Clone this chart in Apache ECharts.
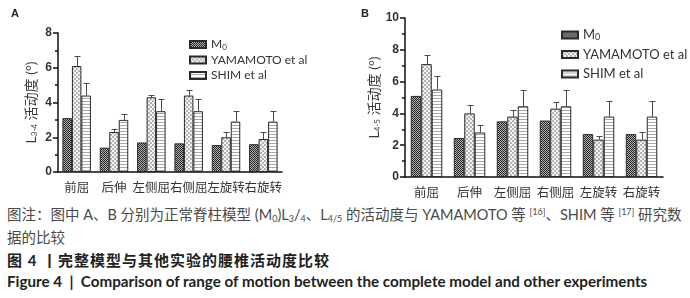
<!DOCTYPE html>
<html>
<head>
<meta charset="utf-8">
<script src="https://cdn.jsdelivr.net/npm/echarts/dist/echarts.min.js"></script>
<style>
  html, body { margin: 0; padding: 0; background: #fff; }
  #wrap { position: relative; width: 690px; height: 298px; overflow: hidden; }
  #chart { position: absolute; left: 0; top: 0; width: 690px; height: 200px; }
  .cap { position: absolute; left: 7px; white-space: nowrap; line-height: 18px; font-family: Lato, "Noto Sans CJK SC", sans-serif; }
  .note { color: #4a4a4a; font-size: 14.5px; }
  .title { color: #222; font-weight: bold; }
  sub, sup { font-size: 9px; line-height: 0; }
  sub { vertical-align: -2px; }
  sup { vertical-align: 5px; }
</style>
</head>
<body>
<div id="wrap">
  <div id="chart"></div>
  <div class="cap note" style="top:206px">图注：图中 A、B 分别为正常脊柱模型 (M<sub>0</sub>)L<sub>3</sub>/<sub>4</sub>、L<sub>4/5</sub> 的活动度与 YAMAMOTO 等 <sup>[16]</sup>、SHIM 等 <sup>[17]</sup> 研究数</div>
  <div class="cap note" style="top:229px">据的比较</div>
  <div class="cap title" style="top:251px; font-size:15px; letter-spacing:1px">图 4 丨完整模型与其他实验的腰椎活动度比较</div>
  <div class="cap title" style="top:272px; font-size:15.2px">Figure 4 &nbsp;|&nbsp; Comparison of range of motion between the complete model and other experiments</div>
</div>
<script>
var categories = ['前屈', '后伸', '左侧屈', '右侧屈', '左旋转', '右旋转'];
var seriesNames = ['M0', 'YAMAMOTO et al', 'SHIM et al'];

// A: L3-4
var a_m0 = [3.1, 1.4, 1.7, 1.65, 1.55, 1.6];
var a_yama = [6.1, 2.3, 4.3, 4.4, 2.0, 1.9];
var a_yamaErr = [0.6, 0.2, 0.15, 0.3, 0.3, 0.4];
var a_shim = [4.4, 3.0, 3.5, 3.5, 2.9, 2.9];
var a_shimErr = [0.75, 0.35, 0.7, 0.7, 0.6, 0.6];

// B: L4-5
var b_m0 = [5.1, 2.45, 3.5, 3.55, 2.7, 2.7];
var b_yama = [7.1, 4.0, 3.8, 4.3, 2.35, 2.35];
var b_yamaErr = [0.6, 0.5, 0.4, 0.4, 0.25, 0.45];
var b_shim = [5.5, 2.8, 4.45, 4.45, 3.8, 3.8];
var b_shimErr = [0.85, 0.45, 1.0, 1.0, 1.0, 1.0];

function makePattern(w, h, draw) {
    var c = document.createElement('canvas');
    c.width = w; c.height = h;
    var ctx = c.getContext('2d');
    draw(ctx);
    return {image: c, repeat: 'repeat'};
}

// dense dark checker
var patM0 = makePattern(2, 2, function(ctx){
    ctx.fillStyle = '#b0b0b0'; ctx.fillRect(0, 0, 2, 2);
    ctx.fillStyle = '#262626'; ctx.fillRect(0, 0, 1, 1); ctx.fillRect(1, 1, 1, 1);
});
// light checker
var patYama = makePattern(4, 4, function(ctx){
    ctx.fillStyle = '#f4f4f4'; ctx.fillRect(0, 0, 4, 4);
    ctx.fillStyle = '#b4b4b4'; ctx.fillRect(0, 0, 2, 2); ctx.fillRect(2, 2, 2, 2);
});
// horizontal stripes
var patShim = makePattern(3, 3, function(ctx){
    ctx.fillStyle = '#ffffff'; ctx.fillRect(0, 0, 3, 3);
    ctx.fillStyle = '#a8a8a8'; ctx.fillRect(0, 2, 3, 1);
});
var patterns = [patM0, patYama, patShim];

function errData(vals, errs) {
    return vals.map(function(v, i){ return [i, v, errs[i]]; });
}

function errRender(offset) {
    return function(params, api) {
        var idx = api.value(0);
        var base = api.coord([idx, api.value(1)]);
        var top = api.coord([idx, api.value(1) + api.value(2)]);
        var x = Math.round(base[0] + offset) + 0.5;
        var ty = Math.round(top[1]) + 0.5;
        return {type: 'group', children: [
            {type: 'line', shape: {x1: x, y1: base[1], x2: x, y2: ty}, style: {stroke: '#4a4a4a', lineWidth: 1}},
            {type: 'line', shape: {x1: x - 3, y1: ty, x2: x + 3, y2: ty}, style: {stroke: '#4a4a4a', lineWidth: 1}}
        ]};
    };
}

function barSeries(k, idx, data, bw) {
    return {
        type: 'bar', name: seriesNames[k], xAxisIndex: idx, yAxisIndex: idx,
        data: data, barWidth: bw, barGap: '0%',
        itemStyle: {color: patterns[k], borderColor: '#2a2a2a', borderWidth: 1},
        emphasis: {disabled: true}
    };
}

function errSeries(idx, vals, errs, offset) {
    return {
        type: 'custom', name: 'err', xAxisIndex: idx, yAxisIndex: idx,
        data: errData(vals, errs), encode: {x: 0, y: 1},
        renderItem: errRender(offset), z: 1, silent: true
    };
}

function yAxis(idx, max, sub) {
    return {
        type: 'value', gridIndex: idx, min: 0, max: max, interval: 2,
        name: '{n|L}{s|' + sub + '}{n| 活动度 (°)}',
        nameLocation: 'middle', nameRotate: 90, nameGap: idx === 0 ? 20 : 24,
        nameTextStyle: {rich: {
            n: {fontSize: 14, color: '#3a3a3a', fontFamily: 'Lato, "Noto Sans CJK SC"'},
            s: {fontSize: 8, color: '#3a3a3a', fontFamily: 'Lato', padding: [6, 0, 0, 0]}
        }},
        axisLine: {show: true, lineStyle: {color: '#111', width: 1.5}},
        axisTick: {show: true, length: 5, lineStyle: {color: '#111', width: 1.5}},
        minorTick: {show: true, splitNumber: 2, length: 3, lineStyle: {color: '#111', width: 1.5}},
        splitLine: {show: false},
        axisLabel: {fontSize: 12, fontWeight: 'bold', color: '#333', margin: 6, fontFamily: 'Liberation Sans'}
    };
}

function xAxis(idx) {
    return {
        type: 'category', gridIndex: idx, data: categories,
        axisLine: {lineStyle: {color: '#111', width: 1.5}},
        axisTick: {alignWithLabel: true, length: 4, lineStyle: {color: '#111', width: 1.5}},
        axisLabel: {interval: 0, fontSize: 12.5, color: '#333', margin: 9, fontFamily: '"Noto Sans CJK SC"'}
    };
}

function legend(left, top, gap, fs) {
    return {
        data: seriesNames, orient: 'vertical', left: left, top: top,
        itemWidth: 16, itemHeight: 7, itemGap: gap, icon: 'rect',
        selectedMode: false,
        textStyle: {fontFamily: 'Lato', fontSize: fs, color: '#333', lineHeight: fs + 1,
            rich: {s: {fontSize: fs - 4, padding: [5, 0, 0, 0]}}},
        formatter: function(name){ return name === 'M0' ? 'M{s|0}' : name; }
    };
}

var chart = echarts.init(document.getElementById('chart'), null, {renderer: 'canvas'});
var bwA = 9.5, bwB = 10.5;
chart.setOption({
    animation: false,
    backgroundColor: '#fff',
    title: [
        {text: 'A', left: 6, top: 3, textStyle: {fontSize: 11, fontWeight: 'bold', color: '#222', fontFamily: 'Liberation Sans'}},
        {text: 'B', left: 356, top: 3, textStyle: {fontSize: 11, fontWeight: 'bold', color: '#222', fontFamily: 'Liberation Sans'}}
    ],
    legend: [legend(184, 33, 2.5, 12), legend(556, 23, 5.5, 13)],
    grid: [
        {left: 58, top: 33, width: 224, height: 139},
        {left: 405, top: 18, width: 258, height: 159}
    ],
    xAxis: [xAxis(0), xAxis(1)],
    yAxis: [yAxis(0, 8, '3-4'), yAxis(1, 10, '4-5')],
    series: [
        barSeries(0, 0, a_m0, bwA),
        barSeries(1, 0, a_yama, bwA),
        barSeries(2, 0, a_shim, bwA),
        errSeries(0, a_yama, a_yamaErr, 0),
        errSeries(0, a_shim, a_shimErr, bwA),
        barSeries(0, 1, b_m0, bwB),
        barSeries(1, 1, b_yama, bwB),
        barSeries(2, 1, b_shim, bwB),
        errSeries(1, b_yama, b_yamaErr, 0),
        errSeries(1, b_shim, b_shimErr, bwB)
    ]
});
</script>
</body>
</html>
